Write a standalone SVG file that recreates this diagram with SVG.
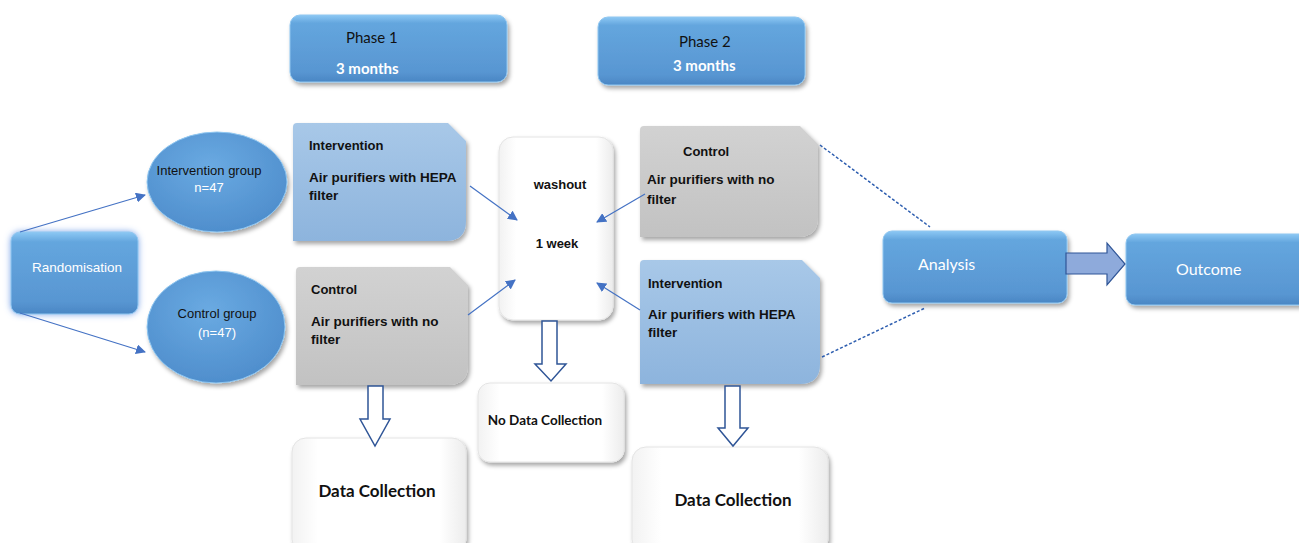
<svg xmlns="http://www.w3.org/2000/svg" width="1299" height="543" viewBox="0 0 1299 543">
  <defs>
    <linearGradient id="blueBevel" x1="0" y1="0" x2="0" y2="1">
      <stop offset="0" stop-color="#8cc8f4"/>
      <stop offset="0.12" stop-color="#64a6de"/>
      <stop offset="0.85" stop-color="#5896d2"/>
      <stop offset="1" stop-color="#4a86c4"/>
    </linearGradient>
    <radialGradient id="blueOrb" cx="0.45" cy="0.35" r="0.7">
      <stop offset="0" stop-color="#6aaae2"/>
      <stop offset="1" stop-color="#4d8ccb"/>
    </radialGradient>
    <linearGradient id="lightBlue" x1="0" y1="0" x2="0" y2="1">
      <stop offset="0" stop-color="#a8c8e8"/>
      <stop offset="1" stop-color="#8db4dd"/>
    </linearGradient>
    <linearGradient id="grey" x1="0" y1="0" x2="0" y2="1">
      <stop offset="0" stop-color="#d2d2d2"/>
      <stop offset="1" stop-color="#c2c2c2"/>
    </linearGradient>
    <linearGradient id="whiteBox" x1="0" y1="0" x2="1" y2="0">
      <stop offset="0" stop-color="#f2f2f2"/>
      <stop offset="0.15" stop-color="#ffffff"/>
      <stop offset="0.85" stop-color="#ffffff"/>
      <stop offset="1" stop-color="#ececec"/>
    </linearGradient>
    <filter id="shadow" x="-10%" y="-10%" width="125%" height="130%">
      <feDropShadow dx="2" dy="3" stdDeviation="2" flood-color="#000" flood-opacity="0.35"/>
    </filter>
    <filter id="glow" x="-20%" y="-20%" width="140%" height="140%">
      <feDropShadow dx="0" dy="0" stdDeviation="3" flood-color="#4a7fe0" flood-opacity="0.7"/>
    </filter>
    <marker id="tri" viewBox="0 0 10 10" refX="9" refY="5" markerWidth="10" markerHeight="10" markerUnits="userSpaceOnUse" orient="auto">
      <path d="M0,0 L10,5 L0,10 Z" fill="#4472c4"/>
    </marker>
  </defs>
  <style>
    .blue { fill: url(#blueBevel); stroke: #8fc6f0; stroke-width: 1; filter: url(#shadow); }
    .orb { fill: url(#blueOrb); stroke: #8fc6f0; stroke-width: 1; filter: url(#shadow); }
    .lb { fill: url(#lightBlue); filter: url(#shadow); }
    .gr { fill: url(#grey); filter: url(#shadow); }
    .wh { fill: url(#whiteBox); stroke: #e4e4e4; stroke-width: 1; filter: url(#shadow); }
    .cal { font-family: Lato, "Open Sans", sans-serif; }
    .ari { font-family: "Liberation Sans", Arial, sans-serif; }
    .link { stroke: #4472c4; stroke-width: 1.2; fill: none; marker-end: url(#tri); }
    .dash { stroke: #2f5fb0; stroke-width: 1.5; stroke-dasharray: 3 2; fill: none; }
    .hollow { fill: #ffffff; stroke: #2f5597; stroke-width: 1.5; }
  </style>

  <!-- phase headers -->
  <g id="phase1">
    <rect class="blue" x="290" y="15" width="217" height="67" rx="10"/>
    <text class="cal" x="346" y="43" font-size="15" fill="#111">Phase 1</text>
    <text class="cal" x="336" y="74" font-size="15" font-weight="bold" fill="#fff">3 months</text>
  </g>
  <g id="phase2">
    <rect class="blue" x="598" y="17" width="207" height="68" rx="10"/>
    <text class="cal" x="679" y="47" font-size="15" fill="#111">Phase 2</text>
    <text class="cal" x="673" y="71" font-size="15" font-weight="bold" fill="#fff">3 months</text>
  </g>

  <!-- randomisation and groups -->
  <g id="randomisation">
    <rect class="blue" x="11" y="232" width="127" height="82" rx="9" style="filter:url(#glow)"/>
    <text class="ari" x="77" y="272" font-size="13.5" fill="#fff" text-anchor="middle">Randomisation</text>
  </g>
  <g id="intervention-group">
    <ellipse class="orb" cx="217" cy="182" rx="70" ry="50"/>
    <text class="ari" x="209" y="175" font-size="13" fill="#111" text-anchor="middle">Intervention group</text>
    <text class="ari" x="209" y="192" font-size="13" fill="#fff" text-anchor="middle">n=47</text>
  </g>
  <g id="control-group">
    <ellipse class="orb" cx="216" cy="327" rx="69" ry="56"/>
    <text class="ari" x="217" y="318" font-size="13" fill="#111" text-anchor="middle">Control group</text>
    <text class="ari" x="217" y="337" font-size="13" fill="#fff" text-anchor="middle">(n=47)</text>
  </g>

  <!-- phase 1 arms -->
  <g id="p1-intervention">
    <path class="lb" d="M293,127 Q293,123 297,123 L448,123 L466,141 L466,221 Q466,241 446,241 L293,241 Z"/>
    <text class="ari" x="309" y="150" font-size="13" font-weight="bold" fill="#111">Intervention</text>
    <text class="ari" x="309" y="182" font-size="13.5" font-weight="bold" fill="#111">Air purifiers with HEPA</text>
    <text class="ari" x="309" y="200" font-size="13.5" font-weight="bold" fill="#111">filter</text>
  </g>
  <g id="p1-control">
    <path class="gr" d="M296,271 Q296,267 300,267 L450,267 L468,285 L468,365 Q468,385 448,385 L296,385 Z"/>
    <text class="ari" x="311" y="294" font-size="13" font-weight="bold" fill="#111">Control</text>
    <text class="ari" x="311" y="326" font-size="13.5" font-weight="bold" fill="#111">Air purifiers with no</text>
    <text class="ari" x="311" y="344" font-size="13.5" font-weight="bold" fill="#111">filter</text>
  </g>

  <!-- washout -->
  <g id="washout">
    <rect class="wh" x="499" y="137" width="114" height="183" rx="14"/>
    <text class="ari" x="560" y="189" font-size="13" font-weight="bold" fill="#111" text-anchor="middle">washout</text>
    <text class="ari" x="557" y="248" font-size="13" font-weight="bold" fill="#111" text-anchor="middle">1 week</text>
  </g>

  <!-- phase 2 arms -->
  <g id="p2-control">
    <path class="gr" d="M640,130 Q640,126 644,126 L800,126 L818,144 L818,217 Q818,237 798,237 L640,237 Z"/>
    <text class="ari" x="683" y="156" font-size="13" font-weight="bold" fill="#111">Control</text>
    <text class="ari" x="647" y="184" font-size="13.5" font-weight="bold" fill="#111">Air purifiers with no</text>
    <text class="ari" x="647" y="204" font-size="13.5" font-weight="bold" fill="#111">filter</text>
  </g>
  <g id="p2-intervention">
    <path class="lb" d="M640,264 Q640,260 644,260 L802,260 L820,278 L820,364 Q820,384 800,384 L640,384 Z"/>
    <text class="ari" x="648" y="288" font-size="13" font-weight="bold" fill="#111">Intervention</text>
    <text class="ari" x="648" y="319" font-size="13.5" font-weight="bold" fill="#111">Air purifiers with HEPA</text>
    <text class="ari" x="648" y="337" font-size="13.5" font-weight="bold" fill="#111">filter</text>
  </g>

  <!-- analysis and outcome -->
  <g id="analysis">
    <rect class="blue" x="883" y="231" width="184" height="72" rx="9"/>
    <text class="cal" x="918" y="270" font-size="16" fill="#fff">Analysis</text>
  </g>
  <g id="outcome">
    <rect class="blue" x="1126" y="234" width="185" height="71" rx="9"/>
    <text class="cal" x="1176" y="275" font-size="16" fill="#fff">Outcome</text>
  </g>

  <!-- data collection boxes -->
  <g id="p1-data">
    <rect class="wh" x="292" y="438" width="174" height="115" rx="14"/>
    <text class="cal" x="377" y="497" font-size="17" font-weight="bold" fill="#111" text-anchor="middle">Data Collection</text>
  </g>
  <g id="no-data">
    <rect class="wh" x="478" y="383" width="146" height="79" rx="12"/>
    <text class="cal" x="545" y="425" font-size="13.5" font-weight="bold" fill="#111" text-anchor="middle">No Data Collection</text>
  </g>
  <g id="p2-data">
    <rect class="wh" x="632" y="447" width="196" height="106" rx="14"/>
    <text class="cal" x="733" y="506" font-size="17" font-weight="bold" fill="#111" text-anchor="middle">Data Collection</text>
  </g>

  <!-- connectors -->
  <g id="connectors">
    <line class="link" x1="20" y1="232" x2="145" y2="195"/>
    <line class="link" x1="20" y1="313" x2="145" y2="352"/>
    <line class="link" x1="470" y1="186" x2="517" y2="220"/>
    <line class="link" x1="468" y1="315" x2="515" y2="280"/>
    <line class="link" x1="645" y1="194" x2="597" y2="222"/>
    <line class="link" x1="640" y1="310" x2="597" y2="283"/>
    <line class="dash" x1="820" y1="145" x2="930" y2="227"/>
    <line class="dash" x1="822" y1="357" x2="925" y2="308"/>
    <path d="M1066,253 L1107,253 L1107,243 L1125,264 L1107,285 L1107,274 L1066,274 Z" fill="#8eaadb" stroke="#2f5597" stroke-width="1.2"/>
    <path class="hollow" d="M368,386 L383,386 L383,419 L390,419 L375,446 L360,419 L368,419 Z"/>
    <path class="hollow" d="M542,321 L557,321 L557,364 L566,364 L551,381 L535,364 L542,364 Z"/>
    <path class="hollow" d="M725,386 L740,386 L740,428 L748,428 L733,446 L718,428 L725,428 Z"/>
  </g>
</svg>
